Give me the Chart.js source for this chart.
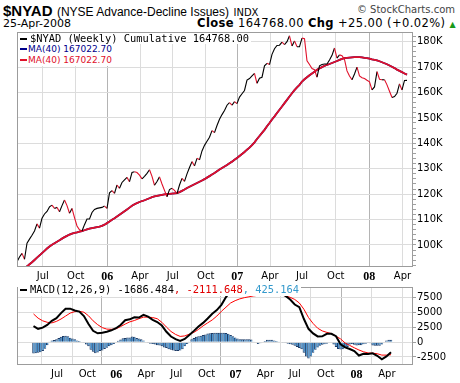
<!DOCTYPE html>
<html><head><meta charset="utf-8">
<script src="https://cdn.jsdelivr.net/npm/chart.js@4.4.1/dist/chart.umd.min.js"></script>
<style>
body{margin:0;background:#fff;width:460px;height:383px;position:relative;overflow:hidden;font-family:"Liberation Sans",Arial,sans-serif;color:#000}
canvas{position:absolute;left:0}
.t{position:absolute;white-space:nowrap}
.leg{position:absolute;white-space:nowrap;background:#fff;height:11px;line-height:11px;padding-right:2px}
.dash{display:inline-block;width:7px;height:2px;vertical-align:middle;margin:0 3px 1px 2px}
.mono{font-family:"DejaVu Sans Mono",monospace;font-size:10.4px}
.sans{font-family:"DejaVu Sans",sans-serif;font-size:9px}
</style></head>
<body>
<div class="t" style="left:3px;top:2px;"><b style="font-size:15px">$NYAD</b> <span style="font-size:12px">(NYSE Advance-Decline Issues)</span> <span style="font-family:'DejaVu Sans';font-size:10px">INDX</span></div>
<div class="t" style="right:5px;top:4px;font-family:'DejaVu Sans';font-size:10px;color:#444">© StockCharts.com</div>
<div class="t" style="left:3px;top:17px;font-family:'DejaVu Sans';font-size:11px">25-Apr-2008</div>
<div class="t" style="right:4px;top:16px;font-family:'DejaVu Sans';font-size:11.5px;letter-spacing:0.4px"><b>Close</b> 164768.00 <b>Chg</b> +25.00 (+0.02%) <span style="color:#1a9a1a;font-size:8px">▲</span></div>

<canvas id="c1" width="460" height="283" style="top:0;width:460px;height:283px"></canvas>
<canvas id="c2" width="460" height="103" style="top:280px;width:460px;height:103px"></canvas>

<div class="leg mono" style="left:18px;top:33px"><span class="dash" style="background:#000"></span>$NYAD (Weekly) Cumulative 164768.00</div>
<div class="leg sans" style="left:18px;top:44px;color:#00008b"><span class="dash" style="background:#00008b;margin-right:1px"></span>MA(40) 167022.70</div>
<div class="leg sans" style="left:18px;top:55px;color:#e0102a"><span class="dash" style="background:#e0102a;margin-right:1px"></span>MA(40) 167022.70</div>
<div class="leg mono" style="left:18px;top:284px;height:12px"><span class="dash" style="background:#000"></span>MACD(12,26,9) -1686.484<span style="color:#e00000">, -2111.648</span><span style="color:#3399cc">, 425.164</span></div>

<script>
// Weekly closes, Apr 29 2005 .. Apr 25 2008 (thousands)
const price = [93.4,95.3,96.7,94.4,100.7,102.3,103.8,105.5,108.3,106.6,
110.5,112.2,113.2,115.0,115.7,114.4,114.8,113.1,115.5,117.7,
115.5,112.5,114.4,110.8,107.5,106.0,105.5,108.0,110.2,110.2,
112.8,114.0,114.4,114.6,114.8,115.3,114.4,120.5,121.4,120.3,
123.6,122.3,124.6,125.6,126.6,124.9,128.5,128.8,128.5,127.5,
126.0,127.0,128.2,129.6,127.0,123.5,125.0,126.8,124.0,121.5,
119.0,121.8,122.3,121.5,120.2,123.6,126.2,125.0,128.0,130.5,
132.8,131.1,134.1,133.5,137.0,139.2,140.8,142.4,145.0,144.2,
147.0,149.5,151.3,152.9,155.0,156.0,155.0,156.4,155.6,158.2,
159.5,160.8,164.9,165.5,166.5,167.5,163.6,165.6,166.0,170.5,
171.5,171.0,175.0,177.2,178.5,178.6,179.8,178.8,180.0,182.3,
178.3,180.3,178.0,178.0,181.4,181.2,172.5,171.0,169.4,169.0,
166.0,170.5,171.0,171.2,171.2,172.8,174.6,177.5,173.5,174.8,
174.5,173.0,168.5,166.5,165.0,167.3,170.0,166.5,165.8,165.5,
164.8,164.2,161.0,162.2,168.2,165.2,165.0,165.0,163.0,160.5,
158.0,158.4,159.7,163.4,161.0,164.74,164.77];

// 40-week moving average (thousands)
const ma40 = [88.0,89.0,90.0,90.9,91.6,92.4,93.2,94.1,95.0,95.9,
96.8,97.7,98.6,99.4,100.1,100.7,101.3,101.9,102.5,103.1,
103.6,104.1,104.5,104.8,105.0,105.3,105.5,105.8,106.1,106.4,
106.6,106.8,107.0,107.2,107.5,108.0,108.6,109.2,109.9,110.5,
111.2,111.9,112.6,113.3,114.0,114.7,115.4,116.0,116.5,116.9,
117.3,117.6,118.0,118.4,118.8,119.1,119.3,119.5,119.7,119.9,
120.0,120.1,120.2,120.3,120.4,120.8,121.3,121.8,122.4,122.9,
123.4,123.9,124.4,124.9,125.4,125.9,126.5,127.1,127.7,128.3,
129.0,129.7,130.3,130.9,131.5,132.2,132.8,133.5,134.2,135.0,
135.8,136.6,137.5,138.3,139.3,140.4,141.7,142.9,144.1,145.3,
146.7,148.0,149.4,150.6,151.9,153.2,154.5,155.8,157.1,158.4,
159.7,160.9,162.0,163.0,164.3,165.2,166.0,166.8,167.5,168.2,
168.9,169.5,170.0,170.5,170.9,171.2,171.6,172.0,172.4,172.8,
173.2,173.5,173.6,173.7,173.8,173.9,173.9,173.9,173.8,173.6,
173.5,173.3,173.0,172.8,172.6,172.3,171.9,171.5,171.1,170.6,
170.1,169.6,169.0,168.5,168.0,167.5,167.02];

// MACD(12,26,9) line and signal, every second week
const macdLine = [2700,2250,2450,2900,3600,4050,4900,5620,5650,5350,
5150,4400,3050,1920,1500,1580,1750,2000,2350,2900,
3700,3850,4200,4150,4600,4300,3750,3400,2800,1750,
950,500,200,550,1200,1900,2650,3250,4000,4800,
5400,6300,7600,8600,9300,9700,10000,10000,9900,9800,
9600,9300,9000,8600,8200,7800,7190,6350,5900,3900,
2250,1480,970,980,1400,1400,1000,-350,-880,-1150,
-1500,-2250,-1950,-1980,-1880,-2300,-2900,-2400,-1686];
const macdSignal = [4760,4050,3600,3350,3250,3500,3900,4400,4900,5150,
5200,5050,4450,3600,2950,2450,2200,2170,2250,2620,
3050,3420,3650,3950,4220,4220,4150,3950,3350,2550,
1800,1300,970,1050,1350,1650,2150,2750,3250,3750,
4400,5200,5900,6600,7000,7300,7500,7650,7800,7900,
8000,8100,8100,8050,7950,7800,7560,7200,6600,5550,
4150,3150,2350,1900,1650,1450,1000,550,-150,-550,
-950,-1320,-1620,-1820,-1850,-1950,-2180,-2180,-2112];
// MACD histogram, weekly
const macdHist = [-1900,-1850,-1800,-1700,-1500,-1100,-500,100,300,350,
500,700,900,1050,1100,1000,750,600,500,300,
200,50,-50,-400,-700,-1300,-1600,-1850,-1750,-1500,
-1400,-1150,-950,-700,-500,-300,-100,250,450,650,
700,800,800,950,900,700,600,500,300,50,
-150,-250,-300,-400,-500,-550,-700,-900,-1000,-1200,
-1300,-1400,-1500,-1500,-1400,-1200,-700,-300,100,500,
700,900,1000,1100,1200,1300,1450,1500,1550,1600,
1600,1600,1600,1600,1550,1400,1200,1000,800,600,
500,500,500,500,500,450,100,-100,-300,-200,
50,200,400,400,400,300,200,100,0,-50,
-150,-250,-350,-450,-600,-800,-1000,-1200,-1800,-2400,
-2750,-2400,-1800,-1300,-900,-600,-450,-350,-250,-100,
0,-400,-800,-1150,-1250,-1200,-1000,-800,-400,-300,
-450,-550,-500,-500,-350,-250,-150,-200,-550,-600,
-600,-600,-400,-100,300,400,425];

// x-axis ticks (week positions) and labels
const xTickPos = [10.3,23.5,36.1,49.2,62.3,75.5,88.1,101.2,114,127.5,140.9,154.2];
const xTickLabels = ['Jul','Oct','06','Apr','Jul','Oct','07','Apr','Jul','Oct','08','Apr'];
const priceTicks = [100,110,120,130,140,150,160,170,180];
const macdTicks = [-2500,0,2500,5000,7500];

const RED = '#e0102a';
const isYear = i => /^\d\d$/.test(xTickLabels[i]);

const frame = {id:'frame', afterDatasetsDraw(c){
  const a=c.chartArea, g=c.ctx; g.save(); g.strokeStyle='#9c9c9c'; g.lineWidth=1;
  g.strokeRect(Math.round(a.left)+0.5, Math.round(a.top)+0.5, Math.round(a.right-a.left)-1, Math.round(a.bottom-a.top)-1);
  g.restore();
}};

function xAxis(h){
  return {
    type:'linear', min:0, max:158.4,
    afterBuildTicks: s => { s.ticks = xTickPos.map(v=>({value:v})); },
    afterFit: s => { s.height = h; },
    grid:{ color: c => isYear(c.index) ? '#b4b4b4' : '#dcdcdc', drawTicks:false },
    border:{display:false},
    ticks:{ autoSkip:false, maxRotation:0, padding:3, color:'#000',
      callback:(v,i)=>xTickLabels[i],
      font: c => isYear(c.index) ? {family:'Liberation Serif', size:12, weight:'bold'} : {family:'DejaVu Sans', size:10} }
  };
}

const common = {
  responsive:false, animation:false, devicePixelRatio:1,
  plugins:{legend:{display:false}, tooltip:{enabled:false}},
  elements:{point:{radius:0}, line:{tension:0}},
};

new Chart(document.getElementById('c1'), {
  type:'line',
  data:{ datasets:[
    { data: price.map((v,i)=>({x:i,y:v})), borderWidth:1.1, borderColor:'#000',
      segment:{ borderColor: c => c.p1.parsed.y < c.p0.parsed.y ? RED : '#000' } },
    { data: ma40.map((v,i)=>({x:i,y:v})), borderWidth:1.8, borderColor:RED },
    { data: ma40.map((v,i)=>({x:i,y:v})), borderWidth:1.8, borderColor:'#000080' }
  ]},
  options:{ ...common,
    layout:{padding:{left:17, top:32, right:0, bottom:0}},
    scales:{
      x: xAxis(16),
      y:{ type:'linear', position:'right', min:91.34, max:183.8,
        afterBuildTicks: s => { const t=[]; for(let v=92; v<=182; v+=2) t.push({value:v}); s.ticks=t; },
        afterFit: s => { s.width = 47; },
        grid:{ color: c => priceTicks.includes(c.tick.value) ? '#dcdcdc' : 'rgba(0,0,0,0)', tickColor:'#a0a0a0', tickLength:3 },
        border:{display:false},
        ticks:{ autoSkip:false, padding:1, color:'#000', font:{family:'DejaVu Sans', size:10},
          callback: v => priceTicks.includes(v) ? v+'K' : '' }
      }
    }
  },
  plugins:[frame]
});

new Chart(document.getElementById('c2'), {
  type:'line',
  data:{ datasets:[
    { data: macdLine.map((v,k)=>({x:2*k,y:v})), borderWidth:2, borderColor:'#000' },
    { data: macdSignal.map((v,k)=>({x:2*k,y:v})), borderWidth:1, borderColor:'#ff0000' },
    { type:'bar', data: macdHist.map((v,i)=>({x:i,y:v})), backgroundColor:'#4a92cc',
      borderColor:'#1b3a66', borderWidth:{left:1,top:1,bottom:1,right:0}, borderSkipped:'start',
      barThickness:2.6, inflateAmount:0 }
  ]},
  options:{ ...common,
    layout:{padding:{left:17, top:4, right:0, bottom:0}},
    scales:{
      x: xAxis(18),
      y:{ type:'linear', position:'right', min:-3850, max:9300,
        afterBuildTicks: s => { s.ticks = macdTicks.map(v=>({value:v})); },
        afterFit: s => { s.width = 47; },
        grid:{ color:'#dcdcdc', tickColor:'#a0a0a0', tickLength:3 },
        border:{display:false},
        ticks:{ autoSkip:false, padding:1, color:'#000', font:{family:'DejaVu Sans', size:10}, callback: v => String(v) }
      }
    }
  },
  plugins:[frame]
});
</script>
</body></html>
